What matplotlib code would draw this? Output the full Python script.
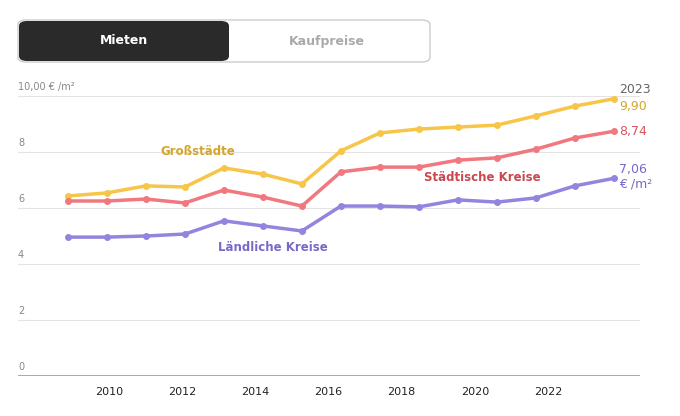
import matplotlib.pyplot as plt
import matplotlib.patches as mp

years = list(range(2009, 2024))
gross = [6.43, 6.54, 6.79, 6.75, 7.43, 7.21, 6.86, 8.04, 8.68, 8.82, 8.89, 8.96, 9.29, 9.64, 9.90]
staedt = [6.25, 6.25, 6.32, 6.18, 6.64, 6.39, 6.07, 7.29, 7.46, 7.46, 7.71, 7.79, 8.10, 8.50, 8.74]
laendl = [4.96, 4.96, 5.00, 5.07, 5.54, 5.36, 5.18, 6.07, 6.07, 6.04, 6.29, 6.21, 6.36, 6.79, 7.06]
yticks = [0, 2, 4, 6, 8, 10]
xticks = [2010, 2012, 2014, 2016, 2018, 2020, 2022]

YEL = "#F7C548"
RED = "#F0787E"
PUR = "#9484E0"
W, H = 680, 416

fig = plt.figure(figsize=(W / 100, H / 100), dpi=100)
ax = fig.add_axes([18 / W, 1 - 376 / H, 622 / W, 280 / H])
ax.set_xlim(2007.72, 2023.67)
ax.set_ylim(0, 10)
for s in ax.spines.values():
    s.set_visible(False)
ax.set_yticks([])
# tick labels in the original sit slightly compressed relative to the points
ax.set_xticks([2010.05 + (t - 2010) * 0.9385 for t in xticks])
ax.set_xticklabels([str(x) for x in xticks], fontsize=8, color="#222")
ax.tick_params(axis="x", length=0, pad=8)
for t in yticks:
    ax.axhline(t, color="#999" if t == 0 else "#e3e3e3", lw=1.2 if t == 0 else 0.8, zorder=0)
    lab = "10,00 € /m²" if t == 10 else str(t)
    ax.text(2007.72, t + 0.15, lab, fontsize=7, color="#888", ha="left", va="bottom")

for vals, col in [(gross, YEL), (staedt, RED), (laendl, PUR)]:
    ax.plot(years, vals, color=col, lw=2.5, marker="o", ms=4, solid_capstyle="round")

ax.text(2023.13, 10.0, "2023", fontsize=9, color="#666", va="bottom")
ax.text(2023.13, gross[-1] - 0.05, "9,90", fontsize=9, color="#D4A52A", va="top")
ax.text(2023.13, staedt[-1], "8,74", fontsize=9, color="#D9555C", va="center")
ax.text(2023.13, laendl[-1] + 0.05, "7,06\n€ /m²", fontsize=9, color="#7A68C8", va="center", linespacing=1.1)
ax.text(2011.36, 7.9, "Großstädte", fontsize=8.5, color="#D4A52A", fontweight="bold")
ax.text(2018.13, 6.95, "Städtische Kreise", fontsize=8.5, color="#C9474E", fontweight="bold")
ax.text(2012.85, 4.45, "Ländliche Kreise", fontsize=8.5, color="#7A68C8", fontweight="bold")

# toggle buttons
fig.patches.append(mp.FancyBboxPatch((18 / W, 1 - 62 / H), 412 / W, 42 / H,
                   boxstyle="round,pad=0,rounding_size=0.012", transform=fig.transFigure,
                   facecolor="white", edgecolor="#ccc", lw=1))
fig.patches.append(mp.FancyBboxPatch((19 / W, 1 - 61 / H), 210 / W, 40 / H,
                   boxstyle="round,pad=0,rounding_size=0.012", transform=fig.transFigure,
                   facecolor="#2a2a2a", edgecolor="none"))
fig.text(124 / W, 1 - 41 / H, "Mieten", fontsize=9, color="white", fontweight="bold", ha="center", va="center")
fig.text(327 / W, 1 - 41 / H, "Kaufpreise", fontsize=9, color="#aaa", fontweight="bold", ha="center", va="center")

fig.savefig("out.png", dpi=100, facecolor="white")
